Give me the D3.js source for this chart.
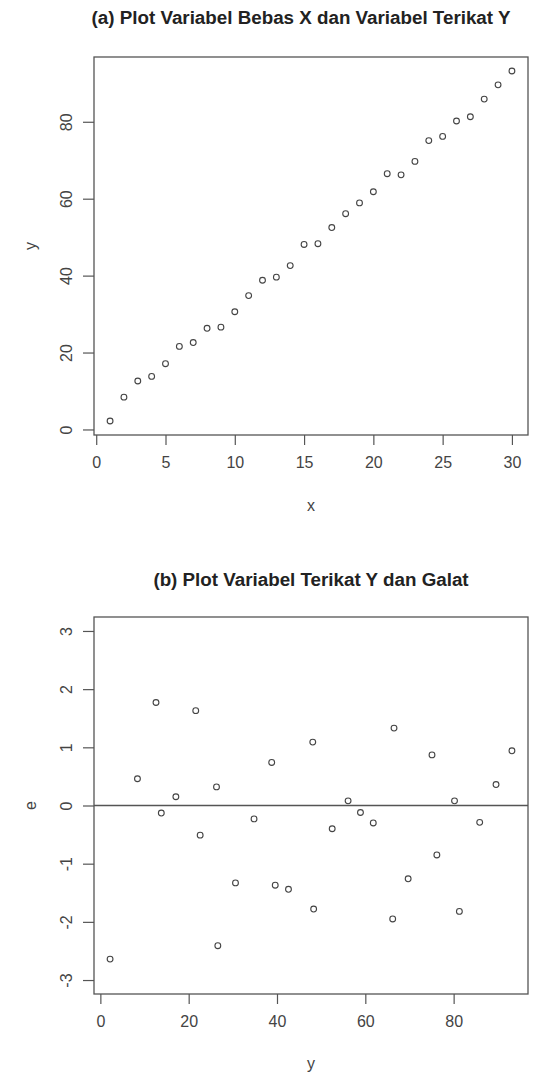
<!DOCTYPE html>
<html>
<head>
<meta charset="utf-8">
<script src="https://cdn.jsdelivr.net/npm/d3@7"></script>
<style>
  html, body { margin: 0; padding: 0; background: #fff; }
  svg { display: block; font-family: "Liberation Sans", Arial, sans-serif; }
</style>
</head>
<body>
<script>
// Observations: predictor x, response y, and regression residuals e
const xValues = [1,2,3,4,5,6,7,8,9,10,11,12,13,14,15,16,17,18,19,20,21,22,23,24,25,26,27,28,29,30];
const yValues = [2.2,8.4,12.6,13.8,17.1,21.6,22.6,26.3,26.6,30.6,34.8,38.8,39.6,42.6,48.1,48.3,52.5,56.1,58.9,61.8,66.5,66.2,69.7,75.1,76.2,80.2,81.3,85.9,89.6,93.2];
const residuals = [-2.64,0.46,1.77,-0.13,0.15,1.63,-0.51,0.32,-2.41,-1.33,-0.23,0.74,-1.37,-1.44,1.09,-1.78,-0.40,0.08,-0.12,-0.30,1.33,-1.95,-1.26,0.87,-0.85,0.08,-1.82,-0.29,0.36,0.94];

// Tick labels and limits
const xTicksA = [0,5,10,15,20,25,30];
const yTicksA = [0,20,40,60,80];
const xTicksB = [0,20,40,60,80];
const yTicksB = [-3,-2,-1,0,1,2,3];
const eLimits = [-3,3];

const titleA = "(a) Plot Variabel Bebas X dan Variabel Terikat Y";
const titleB = "(b) Plot Variabel Terikat Y dan Galat";

const W = 534, H = 1073;
const svg = d3.select("body").append("svg").attr("width", W).attr("height", H);

const lineCol = "#555", textCol = "#444";
const fmt = d => String(d);

// R-style 4% range padding
function padded(ext) {
  const d = (ext[1] - ext[0]) * 0.04;
  return [ext[0] - d, ext[1] + d];
}

function panel(opt) {
  const g = svg.append("g");
  const x = d3.scaleLinear().domain(opt.xDomain).range([opt.left, opt.right]);
  const y = d3.scaleLinear().domain(opt.yDomain).range([opt.bottom, opt.top]);

  // title
  g.append("text")
    .attr("x", opt.titleX).attr("y", opt.titleY)
    .attr("text-anchor", "middle")
    .attr("font-size", 18.8).attr("font-weight", "bold")
    .attr("fill", "#222")
    .text(opt.title);

  // bottom axis
  const xAxis = d3.axisBottom(x).tickValues(opt.xTicks).tickFormat(fmt).tickSize(10).tickPadding(12).tickSizeOuter(0);
  const gx = g.append("g").attr("transform", `translate(0,${opt.bottom})`).call(xAxis);
  gx.select(".domain").remove();
  gx.selectAll("line").attr("stroke", lineCol).attr("stroke-width", 1.2);
  gx.selectAll("text").attr("font-size", 16).attr("fill", textCol).attr("font-family", "Liberation Sans, Arial, sans-serif");

  // left axis (labels parallel to axis)
  const yAxis = d3.axisLeft(y).tickValues(opt.yTicks).tickFormat(fmt).tickSize(11).tickSizeOuter(0);
  const gy = g.append("g").attr("transform", `translate(${opt.left},0)`).call(yAxis);
  gy.select(".domain").remove();
  gy.selectAll("line").attr("stroke", lineCol).attr("stroke-width", 1.2);
  gy.selectAll("text")
    .attr("x", 0).attr("dy", null).attr("y", 0)
    .attr("text-anchor", "middle")
    .attr("dominant-baseline", "central")
    .attr("transform", `translate(${66 - opt.left},0) rotate(-90)`)
    .attr("font-size", 16).attr("fill", textCol).attr("font-family", "Liberation Sans, Arial, sans-serif");

  // reference line
  if (opt.hline !== undefined) {
    g.append("line")
      .attr("x1", opt.left).attr("x2", opt.right)
      .attr("y1", y(opt.hline)).attr("y2", y(opt.hline))
      .attr("stroke", lineCol).attr("stroke-width", 1.3);
  }

  // plot box
  g.append("rect")
    .attr("x", opt.left).attr("y", opt.top)
    .attr("width", opt.right - opt.left).attr("height", opt.bottom - opt.top)
    .attr("fill", "none").attr("stroke", lineCol).attr("stroke-width", 1.3);

  // points
  g.append("g").selectAll("circle")
    .data(d3.zip(opt.xs, opt.ys))
    .join("circle")
    .attr("cx", d => x(d[0])).attr("cy", d => y(d[1]))
    .attr("r", 2.9)
    .attr("fill", "none").attr("stroke", "#444").attr("stroke-width", 1.1);

  // axis titles
  g.append("text")
    .attr("x", (opt.left + opt.right) / 2).attr("y", opt.xLabelY)
    .attr("text-anchor", "middle").attr("dominant-baseline", "central")
    .attr("font-size", 16).attr("fill", textCol)
    .text(opt.xLabel);
  g.append("text")
    .attr("transform", `translate(30,${(opt.top + opt.bottom) / 2}) rotate(-90)`)
    .attr("text-anchor", "middle").attr("dominant-baseline", "central")
    .attr("font-size", 16).attr("fill", textCol)
    .text(opt.yLabel);
}

panel({
  title: titleA, titleX: 301, titleY: 24,
  left: 94, right: 528, top: 57, bottom: 435,
  xDomain: padded(d3.extent(xValues)), yDomain: padded(d3.extent(yValues)),
  xTicks: xTicksA, yTicks: yTicksA,
  xs: xValues, ys: yValues,
  xLabel: "x", yLabel: "y", xLabelY: 505
});

panel({
  title: titleB, titleX: 311, titleY: 586,
  left: 94, right: 528, top: 617, bottom: 994,
  xDomain: padded(d3.extent(yValues)), yDomain: padded(eLimits),
  xTicks: xTicksB, yTicks: yTicksB,
  xs: yValues, ys: residuals, hline: 0,
  xLabel: "y", yLabel: "e", xLabelY: 1063
});
</script>
</body>
</html>
